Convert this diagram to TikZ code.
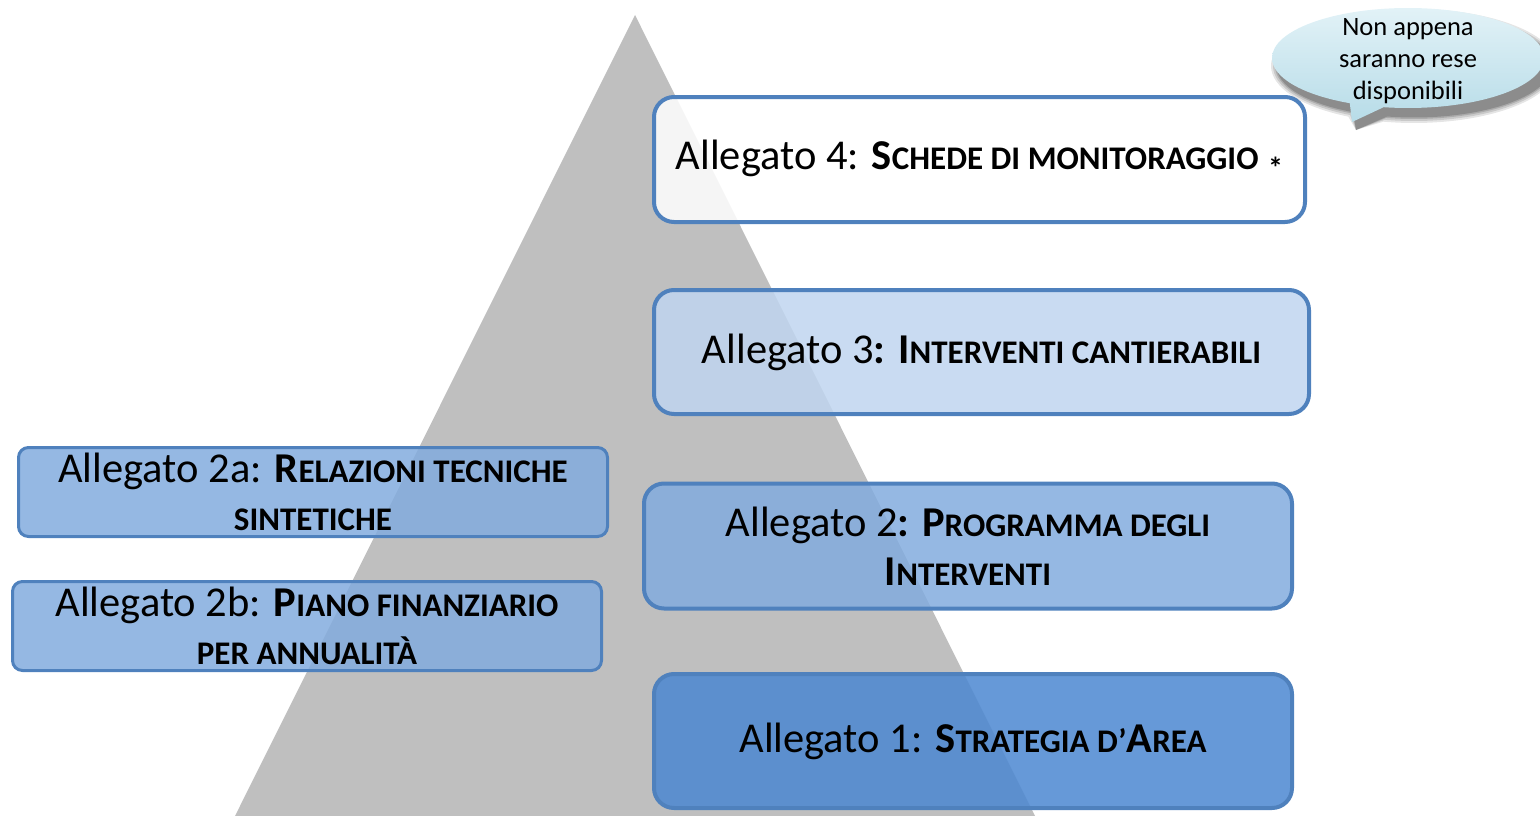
\documentclass[tikz,border=0pt]{standalone}
\usepackage{fontspec}
\setmainfont{Carlito}
\usetikzlibrary{shapes.callouts,shapes.geometric}
\definecolor{bord}{RGB}{79,129,189}
\definecolor{trigray}{RGB}{191,191,191}
\definecolor{fillA}{RGB}{75,135,209}
\definecolor{fillB}{RGB}{131,172,222}
\definecolor{fillC}{RGB}{192,213,240}
\definecolor{calltop}{RGB}{226,242,247}
\definecolor{callbot}{RGB}{183,220,232}
\newcommand{\rgf}{\fontsize{42.5}{48.5}\selectfont}
\newcommand{\scb}[2]{\textbf{#1{\fontsize{33}{48.5}\selectfont #2}}}
\tikzset{
  box/.style={draw=bord, line width=4pt, rounded corners=20pt, fill opacity=0.85, text opacity=1, inner sep=0pt, align=center, font=\rgf},
  sidebox/.style={box, line width=3pt, rounded corners=10pt},
  bubble/.style={ellipse callout, minimum width=272pt, minimum height=100pt, inner sep=0pt},
}
\begin{document}
\begin{tikzpicture}[x=1pt,y=-1pt]
\useasboundingbox (0,0) rectangle (1540,816);
\fill[trigray] (635,15) -- (235,816) -- (1035,816) -- cycle;

\node[box, fill=white, minimum width=651pt, minimum height=125pt] (a4) at (979.5,159.5)
  {Allegato 4: \scb{S}{CHEDE DI MONITORAGGIO} \raisebox{-9pt}{\fontsize{30}{30}\selectfont\textbf{*}}};
\node[box, fill=fillC, minimum width=655pt, minimum height=124pt] (a3) at (981.5,352)
  {Allegato 3\textbf{:} \scb{I}{NTERVENTI CANTIERABILI}};
\node[box, fill=fillB, minimum width=648pt, minimum height=125pt] (a2) at (968,546)
  {Allegato 2\textbf{:} \scb{P}{ROGRAMMA DEGLI}\\ \scb{I}{NTERVENTI}};
\node[box, fill=fillA, minimum width=638pt, minimum height=134pt] (a1) at (973,741)
  {Allegato 1: \scb{S}{TRATEGIA D’}\textbf{A}\scb{}{REA}};
\node[sidebox, fill=fillB, minimum width=589pt, minimum height=89pt] (a2a) at (313,492)
  {Allegato 2a: \scb{R}{ELAZIONI TECNICHE}\\ \scb{}{SINTETICHE}};
\node[sidebox, fill=fillB, minimum width=589pt, minimum height=89pt] (a2b) at (307,626)
  {Allegato 2b: \scb{P}{IANO FINANZIARIO}\\ \scb{}{PER ANNUALITÀ}};

% callout shadow
\foreach \s/\o in {14/0.10,10/0.12,6/0.15,3/0.18}{
  \node[bubble, fill=black, fill opacity=\o, minimum width=272pt+\s pt, minimum height=100pt+\s pt,
        callout absolute pointer={(1356,130)}] at (1414,66) {};
}
\node[bubble, top color=calltop, bottom color=callbot, callout absolute pointer={(1352,122)}] (call) at (1408,58) {};
\node[align=center, font=\fontsize{26.5}{32}\selectfont, inner sep=0pt] (calltext) at (1408,61)
  {Non appena\\ saranno rese\\ disponibili};
\end{tikzpicture}
\end{document}
